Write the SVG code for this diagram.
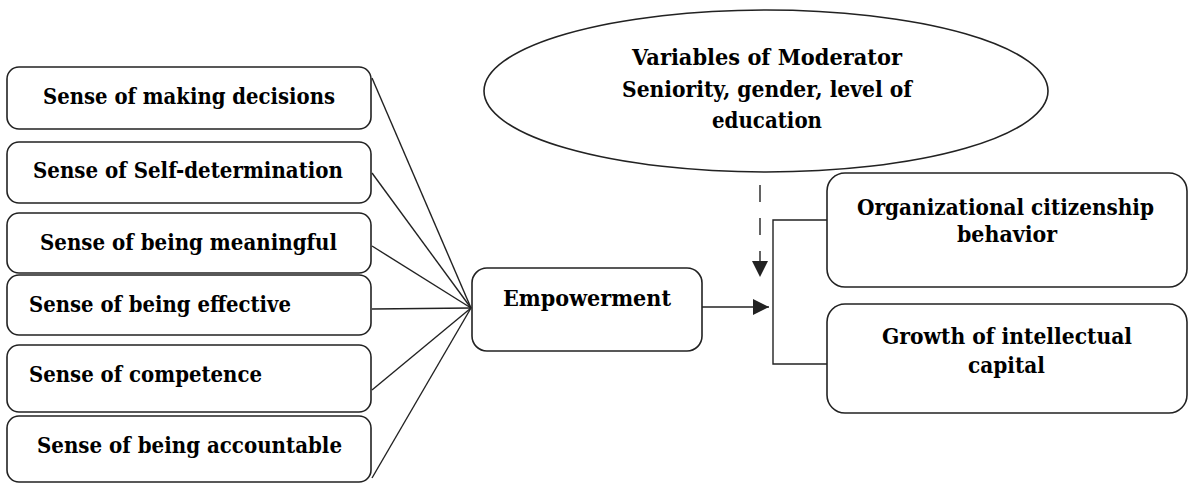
<svg xmlns="http://www.w3.org/2000/svg" width="1189" height="483" viewBox="0 0 1189 483">
<style>
.box{fill:#fff;stroke:#222;stroke-width:1.6}
.t{font-family:'DejaVu Serif','Liberation Serif',serif;font-weight:700;font-size:21.5px;fill:#000;text-anchor:middle}
.ln{stroke:#222;stroke-width:1.4;fill:none}
</style>
<defs>
<marker id="ah" viewBox="0 0 10 10" refX="10" refY="5" markerWidth="16" markerHeight="16" markerUnits="userSpaceOnUse" orient="auto">
<path d="M0,0 L10,5 L0,10 z" fill="#222"/>
</marker>
</defs>
<g id="connectors">
<line class="ln" x1="372" y1="78" x2="471" y2="308"/>
<line class="ln" x1="372" y1="173" x2="471" y2="308"/>
<line class="ln" x1="372" y1="246" x2="471" y2="308"/>
<line class="ln" x1="372" y1="309" x2="471" y2="308"/>
<line class="ln" x1="372" y1="390" x2="471" y2="308"/>
<line class="ln" x1="372" y1="478" x2="471" y2="308"/>
<line class="ln" x1="702" y1="307" x2="769" y2="307" marker-end="url(#ah)"/>
<line class="ln" x1="760" y1="185" x2="760" y2="277" stroke-dasharray="17,16" marker-end="url(#ah)"/>
<polyline class="ln" points="827,220 773,220 773,364 827,364"/>
</g>
<g id="moderator">
<ellipse class="box" cx="766" cy="91" rx="282" ry="81"/>
<text class="t" x="767" y="65" textLength="270" lengthAdjust="spacingAndGlyphs">Variables of Moderator</text>
<text class="t" x="767" y="97" textLength="290" lengthAdjust="spacingAndGlyphs">Seniority, gender, level of</text>
<text class="t" x="767" y="128" textLength="110" lengthAdjust="spacingAndGlyphs">education</text>
</g>
<g id="n1"><rect class="box" x="7" y="67" width="364" height="62" rx="12"/><text class="t" x="189" y="104" textLength="292" lengthAdjust="spacingAndGlyphs">Sense of making decisions</text></g>
<g id="n2"><rect class="box" x="7" y="142" width="364" height="61" rx="12"/><text class="t" x="188" y="178" textLength="310" lengthAdjust="spacingAndGlyphs">Sense of Self-determination</text></g>
<g id="n3"><rect class="box" x="7" y="213" width="364" height="60" rx="12"/><text class="t" x="188.5" y="250" textLength="297" lengthAdjust="spacingAndGlyphs">Sense of being meaningful</text></g>
<g id="n4"><rect class="box" x="7" y="275" width="364" height="60" rx="12"/><text class="t" x="160" y="312" textLength="262" lengthAdjust="spacingAndGlyphs">Sense of being effective</text></g>
<g id="n5"><rect class="box" x="7" y="345" width="364" height="67" rx="12"/><text class="t" x="145.5" y="382" textLength="233" lengthAdjust="spacingAndGlyphs">Sense of competence</text></g>
<g id="n6"><rect class="box" x="7" y="416" width="364" height="66" rx="12"/><text class="t" x="189.5" y="453" textLength="305" lengthAdjust="spacingAndGlyphs">Sense of being accountable</text></g>
<g id="empowerment"><rect class="box" x="472" y="268" width="230" height="83" rx="15"/><text class="t" x="587" y="306" textLength="168" lengthAdjust="spacingAndGlyphs">Empowerment</text></g>
<g id="ocb"><rect class="box" x="827" y="173" width="360" height="114" rx="18"/><text class="t" x="1005.5" y="215" textLength="297" lengthAdjust="spacingAndGlyphs">Organizational citizenship</text><text class="t" x="1007" y="242" textLength="100" lengthAdjust="spacingAndGlyphs">behavior</text></g>
<g id="growth"><rect class="box" x="827" y="304" width="360" height="109" rx="18"/><text class="t" x="1007" y="344" textLength="250" lengthAdjust="spacingAndGlyphs">Growth of intellectual</text><text class="t" x="1006.5" y="373" textLength="77" lengthAdjust="spacingAndGlyphs">capital</text></g>
</svg>
